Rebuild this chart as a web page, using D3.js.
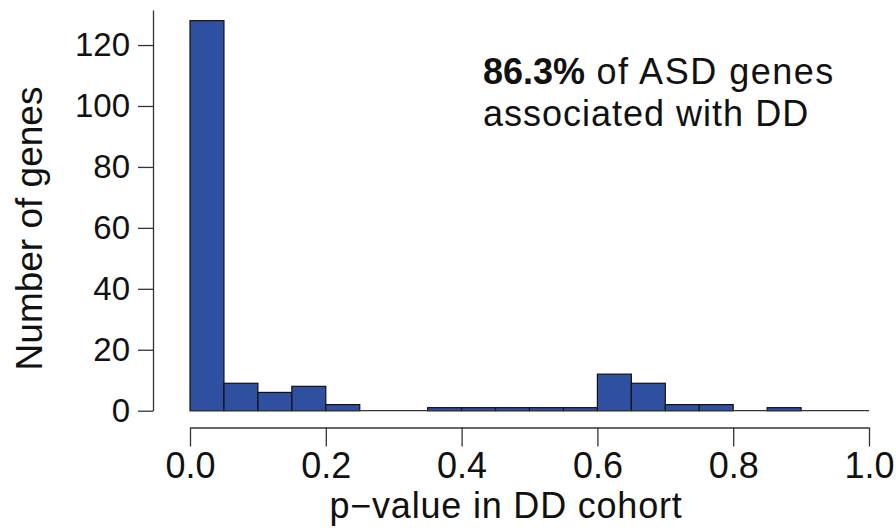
<!DOCTYPE html>
<html>
<head>
<meta charset="utf-8">
<script src="https://cdn.jsdelivr.net/npm/d3@7"></script>
<style>
  html, body { margin: 0; padding: 0; background: #fff; }
  svg { display: block; font-family: "Liberation Sans", Arial, Helvetica, sans-serif; }
</style>
</head>
<body>
<svg id="chart" width="896" height="528"></svg>
<script>
// ---- data ----
const binStarts = [0.00,0.05,0.10,0.15,0.20,0.25,0.30,0.35,0.40,0.45,0.50,0.55,0.60,0.65,0.70,0.75,0.80,0.85,0.90,0.95];
const binWidth = 0.05;
const counts    = [128, 9, 6, 8, 2, 0, 0, 1, 1, 1, 1, 1, 12, 9, 2, 2, 0, 1, 0, 0];
const yTicks = [0, 20, 40, 60, 80, 100, 120];
const xTicks = [0.0, 0.2, 0.4, 0.6, 0.8, 1.0];
const xLabel = "p\u2212value in DD cohort";
const yLabel = "Number of genes";
const noteBold = "86.3%";
const noteRest = " of ASD genes";
const noteLine2 = "associated with DD";

// ---- layout ----
const svg = d3.select("#chart");
const x = d3.scaleLinear().domain([0, 1]).range([190, 869]);
const y = d3.scaleLinear().domain([0, 131.5]).range([410.7, 10]);
const barFill = "#2F50A1";

// bars
svg.append("g").selectAll("rect")
  .data(counts.map((c, i) => ({ x0: binStarts[i], c })))
  .join("rect")
  .filter(d => d.c > 0)
  .attr("x", d => x(d.x0))
  .attr("width", d => x(d.x0 + binWidth) - x(d.x0))
  .attr("y", d => y(d.c))
  .attr("height", d => y(0) - y(d.c))
  .attr("fill", barFill)
  .attr("stroke", "#111")
  .attr("stroke-width", 1.2);

// baseline
svg.append("line")
  .attr("x1", x(0)).attr("x2", x(1))
  .attr("y1", y(0)).attr("y2", y(0))
  .attr("stroke", "#333").attr("stroke-width", 1.2);

// y axis
const yAxis = d3.axisLeft(y).tickValues(yTicks).tickSize(15).tickPadding(8).tickSizeOuter(0);
const gy = svg.append("g").attr("transform", "translate(153,0)").call(yAxis);
gy.select(".domain").attr("stroke", "#333").attr("stroke-width", 1.3);
gy.selectAll(".tick line").attr("stroke", "#333").attr("stroke-width", 1.3);
gy.selectAll(".tick text").attr("font-size", 33).attr("fill", "#111")
  .attr("font-family", "'Liberation Sans', Arial, sans-serif");

// x axis
const xAxis = d3.axisBottom(x).tickValues(xTicks).tickFormat(d3.format(".1f"))
  .tickSize(19).tickPadding(6).tickSizeOuter(0);
const gx = svg.append("g").attr("transform", "translate(0,427.5)").call(xAxis);
gx.select(".domain").attr("stroke", "#333").attr("stroke-width", 1.3);
gx.selectAll(".tick line").attr("stroke", "#333").attr("stroke-width", 1.3);
gx.selectAll(".tick text").attr("font-size", 36).attr("fill", "#111")
  .attr("font-family", "'Liberation Sans', Arial, sans-serif");

// axis titles
svg.append("text")
  .attr("x", 506).attr("y", 518)
  .attr("text-anchor", "middle")
  .attr("font-size", 36).attr("fill", "#111")
  .attr("letter-spacing", 0.8)
  .text(xLabel);

svg.append("text")
  .attr("transform", "translate(42,228.5) rotate(-90)")
  .attr("text-anchor", "middle")
  .attr("font-size", 37).attr("fill", "#111")
  .text(yLabel);

// annotation
const note = svg.append("text").attr("font-size", 36).attr("fill", "#111");
const l1 = note.append("tspan").attr("x", 483).attr("y", 84);
l1.append("tspan").attr("font-weight", "bold").text(noteBold);
l1.append("tspan").attr("letter-spacing", 1.5).text(noteRest);
note.append("tspan").attr("x", 483).attr("y", 126).attr("letter-spacing", 1).text(noteLine2);
</script>
</body>
</html>
